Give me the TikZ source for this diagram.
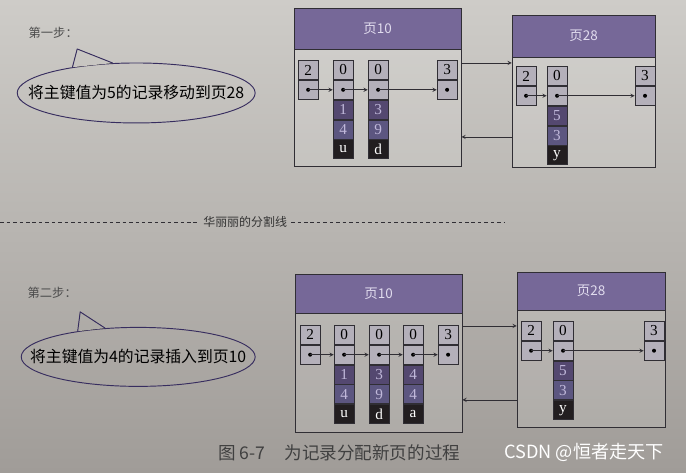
\documentclass[tikz,border=0pt]{standalone}
\usepackage{fontspec}
\setmainfont{Liberation Serif}
\newfontfamily\cjk{Noto Sans CJK SC}
\usetikzlibrary{positioning,shapes.geometric}
\definecolor{paperTop}{RGB}{206,204,200}
\definecolor{paperBottom}{RGB}{160,156,152}
\definecolor{headPurple}{RGB}{118,104,152}
\definecolor{headText}{RGB}{225,220,238}
\definecolor{slotGray}{RGB}{180,176,186}
\definecolor{keyPurple}{RGB}{84,72,112}
\definecolor{keyBlue}{RGB}{92,86,128}
\definecolor{keyText}{RGB}{192,184,218}
\definecolor{dataBlack}{RGB}{34,30,32}
\definecolor{inkGray}{RGB}{48,46,52}
\definecolor{bubbleInk}{RGB}{55,45,95}
\begin{document}
\begin{tikzpicture}[
    x=0.03cm, y=-0.03cm,
    paper/.style={top color=paperTop, bottom color=paperBottom},
    page/.style={rectangle, draw=inkGray, line width=0.6pt, fill=white, fill opacity=0.12, inner sep=0pt},
    header/.style={rectangle, draw=inkGray, line width=0.6pt, fill=headPurple, text=headText, inner sep=0pt,
        font=\cjk\fontsize{11.5}{13}\selectfont},
    slot/.style={rectangle, draw=inkGray, line width=0.7pt, fill=slotGray, minimum width=0.6cm,
        minimum height=0.57cm, inner sep=0pt, font=\fontsize{13}{14}\selectfont},
    pointer/.style={slot, path picture={\fill[black] (path picture bounding box.center) circle (1.7pt);}},
    key/.style={slot, fill=keyPurple, text=keyText},
    keylow/.style={slot, fill=keyBlue, text=keyText},
    record/.style={slot, fill=dataBlack, text=white},
    link/.style={draw=inkGray, line width=0.6pt, -stealth},
    bubble/.style={ellipse, draw=bubbleInk, line width=0.8pt, inner sep=0pt},
    bubbleline/.style={draw=bubbleInk, line width=0.8pt, line join=round},
    say/.style={font=\cjk\fontsize{13.5}{15}\selectfont, text=black},
    stepnote/.style={font=\cjk\fontsize{10.5}{12}\selectfont, text=black!70},
    divider/.style={draw=inkGray, dashed, dash pattern=on 3pt off 2.5pt}
]
\fill[paper] (0,0) rectangle (686,473);

\node (Step1) [stepnote] at (53,33) {第一步：};
\node (Bubble1) [bubble, minimum width=7.14cm, minimum height=1.8cm] at (136,93) {};
\coordinate (Tip1) at (77,49);
\begin{scope}
  \clip (Bubble1.158) -- (Tip1) -- (Bubble1.128) -- cycle;
  \fill[paper] (0,0) rectangle (686,473);
\end{scope}
\draw[bubbleline] (Bubble1.158) -- (Tip1) -- (Bubble1.128);
\node (Say1) [say] at (Bubble1.center) {将主键值为5的记录移动到页28};

\node (Page10a) [page, minimum width=5.01cm, minimum height=4.74cm] at (377.5,87) {};
\node (Head10a) [header, minimum width=5.01cm, minimum height=1.23cm, below=0pt of Page10a.north] {页10};
\node (Page28a) [page, minimum width=4.29cm, minimum height=4.56cm] at (583.5,91) {};
\node (Head28a) [header, minimum width=4.29cm, minimum height=1.26cm, below=0pt of Page28a.north] {页28};

\node (A1r1) [slot] at (308,70) {2};
\node (A1r2) [pointer, below=0pt of A1r1] {};
\node (A2r1) [slot] at (343,70) {0};
\node (A2r2) [pointer, below=0pt of A2r1] {};
\node (A2r3) [key, below=0pt of A2r2] {1};
\node (A2r4) [keylow, below=0pt of A2r3] {4};
\node (A2r5) [record, below=0pt of A2r4] {u};
\node (A3r1) [slot] at (378,70) {0};
\node (A3r2) [pointer, below=0pt of A3r1] {};
\node (A3r3) [key, below=0pt of A3r2] {3};
\node (A3r4) [keylow, below=0pt of A3r3] {9};
\node (A3r5) [record, below=0pt of A3r4] {d};
\node (A4r1) [slot] at (447,70) {3};
\node (A4r2) [pointer, below=0pt of A4r1] {};

\node (B1r1) [slot] at (526,76) {2};
\node (B1r2) [pointer, below=0pt of B1r1] {};
\node (B2r1) [slot] at (557,76) {0};
\node (B2r2) [pointer, below=0pt of B2r1] {};
\node (B2r3) [key, below=0pt of B2r2] {5};
\node (B2r4) [keylow, below=0pt of B2r3] {3};
\node (B2r5) [record, below=0pt of B2r4] {y};
\node (B3r1) [slot] at (645,76) {3};
\node (B3r2) [pointer, below=0pt of B3r1] {};

\draw[link] (A1r2.center) -- (A2r2.west);
\draw[link] (A2r2.center) -- (A3r2.west);
\draw[link] (A3r2.center) -- (A4r2.west);
\draw[link] (B1r2.center) -- (B2r2.west);
\draw[link] (B2r2.center) -- (B3r2.west);
\draw[link] (Page10a.east |- 0,63) -- (Page28a.west |- 0,63);
\draw[link] (Page28a.west |- 0,137) -- (Page10a.east |- 0,137);

\node (Split) [font=\cjk\fontsize{10.2}{12}\selectfont, text=black!80] at (245,222) {华丽丽的分割线};
\draw[divider] (0,222) -- (Split.west);
\draw[divider] (Split.east) -- (505,222);

\node (Step2) [stepnote] at (52,293) {第二步：};
\node (Bubble2) [bubble, minimum width=7.02cm, minimum height=1.77cm] at (138,357) {};
\coordinate (Tip2) at (80,312);
\begin{scope}
  \clip (Bubble2.157) -- (Tip2) -- (Bubble2.139) -- cycle;
  \fill[paper] (0,0) rectangle (686,473);
\end{scope}
\draw[bubbleline] (Bubble2.157) -- (Tip2) -- (Bubble2.139);
\node (Say2) [say] at (Bubble2.center) {将主键值为4的记录插入到页10};

\node (Page10b) [page, minimum width=5.01cm, minimum height=4.74cm] at (378.5,353) {};
\node (Head10b) [header, minimum width=5.01cm, minimum height=1.17cm, below=0pt of Page10b.north] {页10};
\node (Page28b) [page, minimum width=4.44cm, minimum height=4.65cm] at (591,349.5) {};
\node (Head28b) [header, minimum width=4.44cm, minimum height=1.14cm, below=0pt of Page28b.north] {页28};

\node (C1r1) [slot] at (310,335) {2};
\node (C1r2) [pointer, below=0pt of C1r1] {};
\node (C2r1) [slot] at (344,335) {0};
\node (C2r2) [pointer, below=0pt of C2r1] {};
\node (C2r3) [key, below=0pt of C2r2] {1};
\node (C2r4) [keylow, below=0pt of C2r3] {4};
\node (C2r5) [record, below=0pt of C2r4] {u};
\node (C3r1) [slot] at (379,335) {0};
\node (C3r2) [pointer, below=0pt of C3r1] {};
\node (C3r3) [key, below=0pt of C3r2] {3};
\node (C3r4) [keylow, below=0pt of C3r3] {9};
\node (C3r5) [record, below=0pt of C3r4] {d};
\node (C4r1) [slot] at (413,335) {0};
\node (C4r2) [pointer, below=0pt of C4r1] {};
\node (C4r3) [key, below=0pt of C4r2] {4};
\node (C4r4) [keylow, below=0pt of C4r3] {4};
\node (C4r5) [record, below=0pt of C4r4] {a};
\node (C5r1) [slot] at (448,335) {3};
\node (C5r2) [pointer, below=0pt of C5r1] {};

\node (D1r1) [slot] at (531,331) {2};
\node (D1r2) [pointer, below=0pt of D1r1] {};
\node (D2r1) [slot] at (563,331) {0};
\node (D2r2) [pointer, below=0pt of D2r1] {};
\node (D2r3) [key, below=0pt of D2r2] {5};
\node (D2r4) [keylow, below=0pt of D2r3] {3};
\node (D2r5) [record, below=0pt of D2r4] {y};
\node (D3r1) [slot] at (654,331) {3};
\node (D3r2) [pointer, below=0pt of D3r1] {};

\draw[link] (C1r2.center) -- (C2r2.west);
\draw[link] (C2r2.center) -- (C3r2.west);
\draw[link] (C3r2.center) -- (C4r2.west);
\draw[link] (C4r2.center) -- (C5r2.west);
\draw[link] (D1r2.center) -- (D2r2.west);
\draw[link] (D2r2.center) -- (D3r2.west);
\draw[link] (Page10b.east |- 0,326) -- (Page28b.west |- 0,326);
\draw[link] (Page28b.west |- 0,400) -- (Page10b.east |- 0,400);

\node (Caption) [font=\cjk\fontsize{15}{17}\selectfont, text=black!75] at (339,453) {图 6-7\hspace{1.1em}为记录分配新页的过程};
\node (Mark) [font=\cjk\fontsize{15.5}{17}\selectfont, text=white] at (584,453) {CSDN @恒者走天下};
\end{tikzpicture}
\end{document}
